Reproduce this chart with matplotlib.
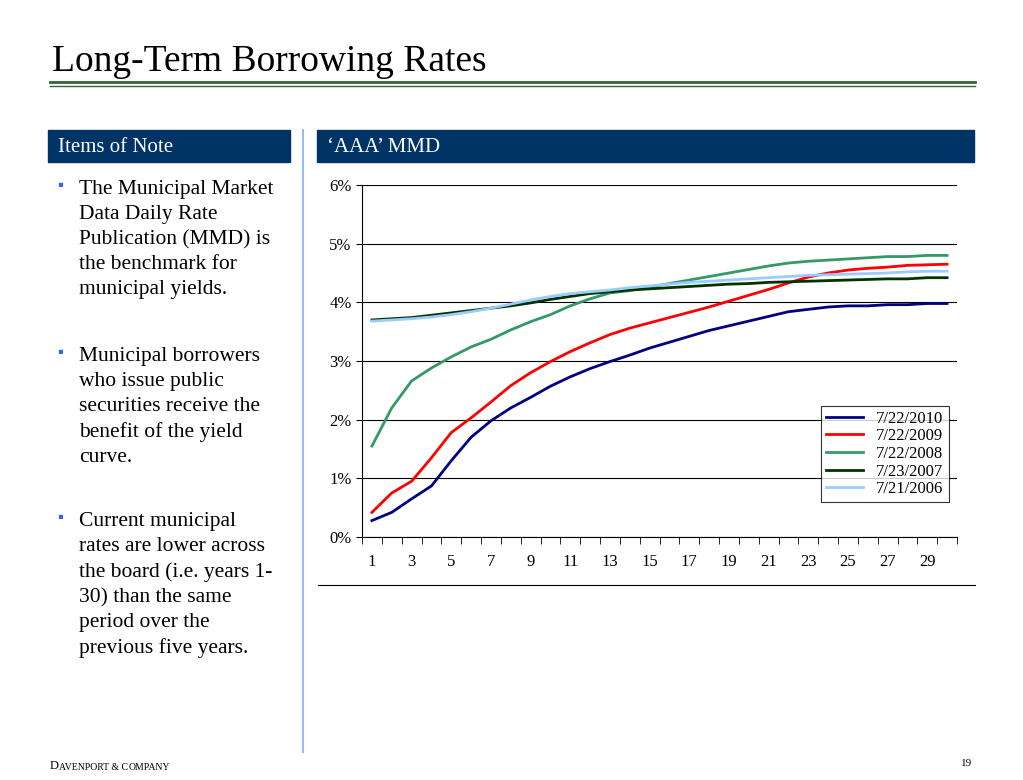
import matplotlib
matplotlib.use("Agg")
import matplotlib.pyplot as plt
from matplotlib.patches import Rectangle
from matplotlib.lines import Line2D

years = list(range(1, 31))
s2010 = [0.28,0.42,0.65,0.87,1.3,1.7,1.98,2.2,2.38,2.57,2.73,2.87,2.99,3.1,3.22,3.32,3.42,3.52,3.6,3.68,3.76,3.84,3.88,3.92,3.94,3.94,3.96,3.96,3.98,3.98]
s2009 = [0.42,0.75,0.95,1.35,1.78,2.03,2.3,2.58,2.8,2.99,3.16,3.31,3.45,3.56,3.65,3.74,3.83,3.92,4.02,4.12,4.22,4.33,4.43,4.5,4.55,4.58,4.6,4.63,4.64,4.65]
s2008 = [1.55,2.2,2.66,2.88,3.07,3.24,3.37,3.53,3.67,3.79,3.94,4.06,4.16,4.2,4.26,4.32,4.38,4.44,4.5,4.56,4.62,4.67,4.7,4.72,4.74,4.76,4.78,4.78,4.8,4.8]
s2007 = [3.7,3.72,3.74,3.78,3.82,3.86,3.9,3.94,3.99,4.05,4.1,4.15,4.18,4.21,4.23,4.25,4.27,4.29,4.31,4.32,4.34,4.35,4.36,4.37,4.38,4.39,4.4,4.4,4.42,4.42]
s2006 = [3.68,3.7,3.72,3.75,3.79,3.84,3.9,3.97,4.04,4.1,4.15,4.18,4.21,4.25,4.28,4.31,4.34,4.36,4.38,4.4,4.42,4.44,4.46,4.47,4.48,4.49,4.5,4.52,4.53,4.53]
labels = ["7/22/2010","7/22/2009","7/22/2008","7/23/2007","7/21/2006"]
colors = ["#000080","#FF0000","#339966","#003300","#99CCFF"]

plt.rcParams['font.family'] = ['Liberation Serif', 'DejaVu Serif']
W, H = 1023, 780
fig = plt.figure(figsize=(W/100, H/100), dpi=100)

def fx(px): return px / W
def fy(py): return 1 - py / H

fig.text(fx(52), fy(62), "Long-Term Borrowing Rates", fontsize=27, va="center", ha="left")
fig.add_artist(Line2D([fx(50), fx(975)], [fy(82), fy(82)], color="#336633", lw=2))
fig.add_artist(Line2D([fx(50), fx(975)], [fy(86), fy(86)], color="#336633", lw=1))
fig.add_artist(Rectangle((fx(48), fy(162)), fx(242), 32/H, color="#003366"))
fig.text(fx(58), fy(147), "Items of Note", color="white", fontsize=15, va="center")
fig.add_artist(Rectangle((fx(317), fy(162)), fx(657), 32/H, color="#003366"))
fig.text(fx(327), fy(147), "\u2018AAA\u2019 MMD", color="white", fontsize=15, va="center")
fig.add_artist(Line2D([fx(303), fx(303)], [fy(130), fy(752)], color="#99BBEE", lw=1.5))
fig.add_artist(Line2D([fx(318), fx(975)], [fy(585), fy(585)], color="black", lw=0.8))

bullets = [(188, "The Municipal Market\nData Daily Rate\nPublication (MMD) is\nthe benchmark for\nmunicipal yields."),
           (355, "Municipal borrowers\nwho issue public\nsecurities receive the\nbenefit of the yield\ncurve."),
           (520, "Current municipal\nrates are lower across\nthe board (i.e. years 1-\n30) than the same\nperiod over the\nprevious five years.")]
for y, t in bullets:
    fig.text(fx(57), fy(y - 2), "\u25aa", color="#3366FF", fontsize=12, va="center")
    fig.text(fx(79), fy(y - 8), t, fontsize=15.5, va="top", linespacing=1.42)

fig.text(fx(50), fy(766), "D", fontsize=9, va="center")
fig.text(fx(59), fy(767), "AVENPORT & C", fontsize=7, va="center")
fig.text(fx(129), fy(767), "OMPANY", fontsize=7, va="center")
fig.text(fx(972), fy(764), "19", fontsize=8, va="center", ha="right")

ax = fig.add_axes([fx(362), fy(537), fx(957-362), (537-185)/H])
for s, l, c in zip([s2010, s2009, s2008, s2007, s2006], labels, colors):
    ax.plot(years, s, color=c, lw=2, label=l)
ax.set_xlim(0.5, 30.5)
ax.set_ylim(0, 6)
ax.set_yticks(range(7))
ax.set_yticklabels([f"{i}%" for i in range(7)], fontsize=12)
ax.set_xticks(range(1, 31, 2))
ax.set_xticks([x + 0.5 for x in range(0, 31)], minor=True)
ax.tick_params(axis='x', which='major', length=0, labelsize=12, pad=12)
ax.tick_params(axis='x', which='minor', length=5, direction='out')
ax.tick_params(axis='y', length=4, direction='out')
ax.grid(axis='y', color='black', lw=0.8)
for sp in ["top", "right"]:
    ax.spines[sp].set_visible(False)
leg = ax.legend(loc="lower right", bbox_to_anchor=(1.0, 0.075), fontsize=12, frameon=True,
                fancybox=False, edgecolor="black", handlelength=2.2, borderpad=0.3, labelspacing=0.1)
leg.get_frame().set_linewidth(0.8)
fig.savefig("out.png", dpi=100)
